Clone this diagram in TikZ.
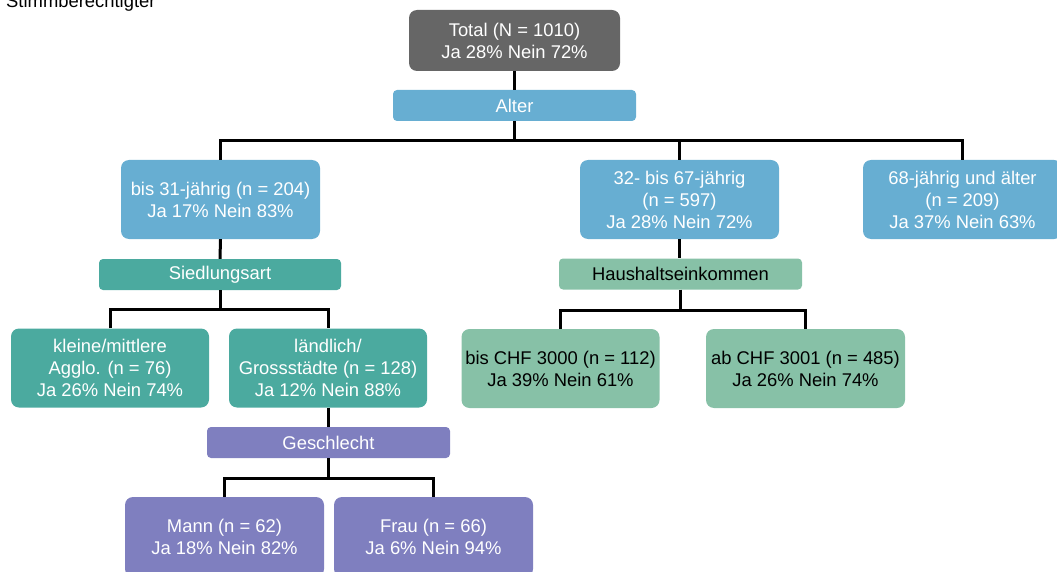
\documentclass[tikz,border=0pt]{standalone}
\usepackage{fontspec}
\setmainfont{Liberation Sans}
\definecolor{cgray}{HTML}{666666}
\definecolor{cblue}{HTML}{67AED2}
\definecolor{cteal}{HTML}{4BAA9F}
\definecolor{cgreen}{HTML}{87C1A7}
\definecolor{cpurple}{HTML}{7F7FBF}
\begin{document}
\begin{tikzpicture}[x=1pt,y=-1pt,
  every node/.style={font=\fontsize{18.4}{22}\selectfont, inner sep=0pt},
  box/.style={rounded corners=8pt, minimum width=199pt, minimum height=79pt, align=center, text=white},
  bar/.style={rounded corners=4pt, minimum width=243pt, minimum height=31pt, align=center, text=white},
  conn/.style={draw=black, line width=3pt}]
\useasboundingbox (0,0) rectangle (1057,572);
\node[anchor=base west] (title) at (6,7.5) {Stimmberechtigter};
\node[box, fill=cgray, minimum width=211pt, minimum height=61pt] (total) at (514.5,40.5) {Total (N = 1010)\\Ja 28\% Nein 72\%};
\node[bar, fill=cblue] (alter) at (514.5,105.5) {Alter};
\node[box, fill=cblue] (a1) at (220.5,199.5) {bis 31-jährig (n = 204)\\Ja 17\% Nein 83\%};
\node[box, fill=cblue] (a2) at (679.5,199.5) {32- bis 67-jährig\\(n = 597)\\Ja 28\% Nein 72\%};
\node[box, fill=cblue] (a3) at (962.5,199.5) {68-jährig und älter\\(n = 209)\\Ja 37\% Nein 63\%};
\node[bar, fill=cteal, minimum width=242pt] (sied) at (220,274.5) {Siedlungsart};
\node[box, fill=cteal, minimum width=198pt] (s1) at (110,368) {kleine/mittlere\\Agglo. (n = 76)\\Ja 26\% Nein 74\%};
\node[box, fill=cteal, minimum width=198pt] (s2) at (328,368) {ländlich/\\Grossstädte (n = 128)\\Ja 12\% Nein 88\%};
\node[bar, fill=cpurple] (gesch) at (328.5,442.5) {Geschlecht};
\node[box, fill=cpurple, minimum height=80pt] (g1) at (224.5,537) {Mann (n = 62)\\Ja 18\% Nein 82\%};
\node[box, fill=cpurple, minimum height=80pt] (g2) at (433.5,537) {Frau (n = 66)\\Ja 6\% Nein 94\%};
\node[bar, fill=cgreen, text=black] (haus) at (680.5,274) {Haushaltseinkommen};
\node[box, fill=cgreen, text=black, minimum width=198pt] (h1) at (560.5,368.5) {bis CHF 3000 (n = 112)\\Ja 39\% Nein 61\%};
\node[box, fill=cgreen, text=black] (h2) at (805.5,368.5) {ab CHF 3001 (n = 485)\\Ja 26\% Nein 74\%};
\coordinate (j1) at (514.5,141);
\coordinate (j2) at (220,309);
\coordinate (j3) at (680.5,310);
\coordinate (j4) at (328.5,478);
\draw[conn] (total.south) -- (alter.north);
\draw[conn] (alter.south) -- (j1);
\draw[conn] (a1.north) |- (j1) -| (a3.north);
\draw[conn] (a2.north) -- (a2.north |- j1);
\draw[conn] (a1.south) -- (sied.north);
\draw[conn] (sied.south) -- (j2);
\draw[conn] (s1.north) |- (j2) -| (s2.north);
\draw[conn] (a2.south) -- (a2.south |- haus.north);
\draw[conn] (haus.south) -- (j3);
\draw[conn] (h1.north) |- (j3) -| (h2.north);
\draw[conn] (s2.south) -- (s2.south |- gesch.north);
\draw[conn] (gesch.south) -- (j4);
\draw[conn] (g1.north) |- (j4) -| (g2.north);
\end{tikzpicture}
\end{document}
